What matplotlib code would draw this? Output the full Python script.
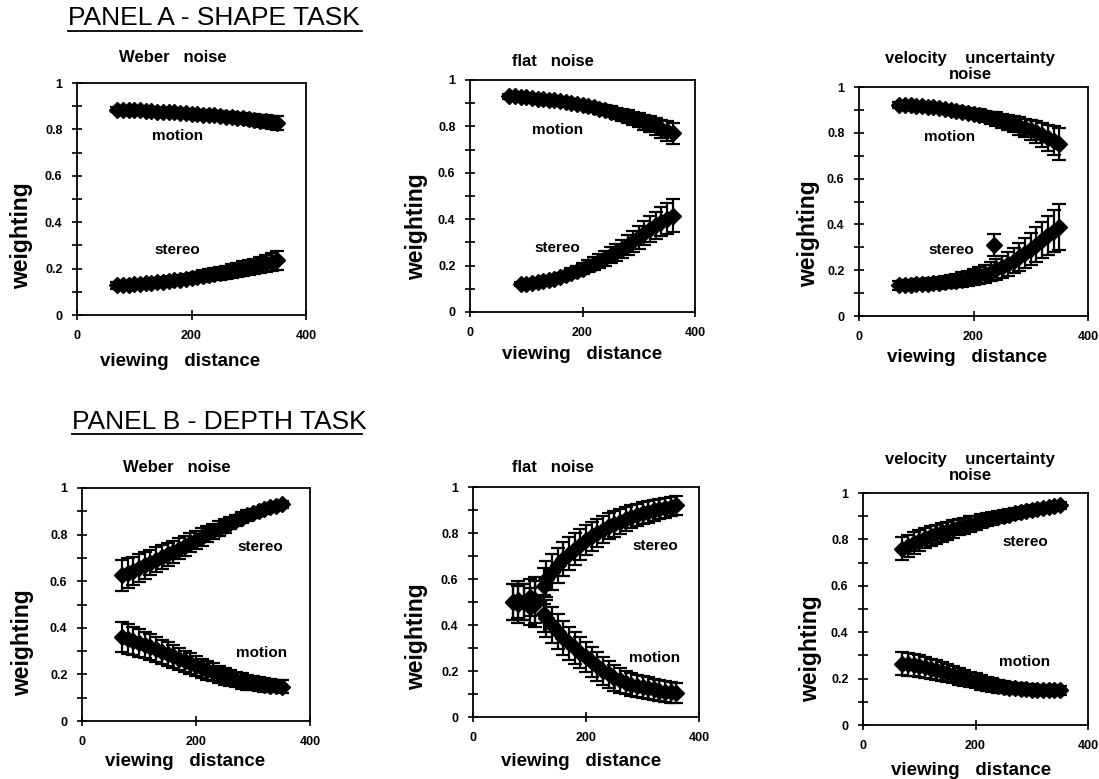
import matplotlib
matplotlib.use("Agg")
import matplotlib.pyplot as plt
from matplotlib.lines import Line2D

plt.rcParams["font.family"] = ["Liberation Sans", "DejaVu Sans"]
plt.rcParams["font.weight"] = "bold"

# ---- data ----
X = [70, 80, 90, 100, 110, 120, 130, 140, 150, 160, 170, 180, 190, 200, 210,
     220, 230, 240, 250, 260, 270, 280, 290, 300, 310, 320, 330, 340, 350]

# panel A, Weber noise
a1_motion = [0.885, 0.885, 0.884, 0.883, 0.882, 0.880, 0.879, 0.877, 0.876, 0.874,
             0.873, 0.871, 0.870, 0.868, 0.866, 0.864, 0.862, 0.860, 0.858, 0.855,
             0.852, 0.850, 0.847, 0.844, 0.841, 0.838, 0.835, 0.831, 0.828]
a1_motion_err = [0.012, 0.012, 0.012, 0.013, 0.013, 0.013, 0.014, 0.014, 0.015, 0.015,
                 0.016, 0.016, 0.017, 0.017, 0.018, 0.018, 0.019, 0.019, 0.020, 0.021,
                 0.021, 0.022, 0.023, 0.024, 0.025, 0.026, 0.027, 0.028, 0.030]
a1_stereo = [0.128, 0.129, 0.130, 0.132, 0.134, 0.136, 0.138, 0.141, 0.144, 0.147,
             0.150, 0.153, 0.157, 0.160, 0.164, 0.168, 0.172, 0.176, 0.180, 0.185,
             0.190, 0.195, 0.200, 0.205, 0.210, 0.216, 0.222, 0.228, 0.235]
a1_stereo_err = [0.015, 0.015, 0.016, 0.016, 0.017, 0.017, 0.018, 0.018, 0.019, 0.019,
                 0.020, 0.021, 0.021, 0.022, 0.023, 0.024, 0.025, 0.026, 0.027, 0.028,
                 0.029, 0.030, 0.031, 0.032, 0.033, 0.035, 0.036, 0.038, 0.040]

# panel A, flat noise
a2_motion_x = [70, 80, 90, 100, 110, 120, 130, 140, 150, 160, 170, 180, 190, 200, 210,
               220, 230, 240, 250, 260, 270, 280, 290, 300, 310, 320, 330, 340, 350, 360]
a2_motion = [0.930, 0.929, 0.927, 0.925, 0.923, 0.920, 0.918, 0.915, 0.912, 0.909,
             0.905, 0.901, 0.897, 0.892, 0.887, 0.882, 0.876, 0.870, 0.864, 0.857,
             0.850, 0.843, 0.835, 0.827, 0.818, 0.809, 0.800, 0.790, 0.780, 0.770]
a2_motion_err = [0.010, 0.010, 0.011, 0.011, 0.012, 0.012, 0.013, 0.013, 0.014, 0.015,
                 0.015, 0.016, 0.017, 0.018, 0.019, 0.020, 0.021, 0.022, 0.023, 0.024,
                 0.025, 0.027, 0.028, 0.030, 0.032, 0.034, 0.036, 0.039, 0.042, 0.045]
a2_stereo_x = [90, 100, 110, 120, 130, 140, 150, 160, 170, 180, 190, 200, 210, 220,
               230, 240, 250, 260, 270, 280, 290, 300, 310, 320, 330, 340, 350, 360]
a2_stereo = [0.120, 0.122, 0.125, 0.128, 0.132, 0.137, 0.143, 0.150, 0.158, 0.167,
             0.176, 0.186, 0.197, 0.209, 0.220, 0.232, 0.245, 0.258, 0.272, 0.288,
             0.305, 0.322, 0.340, 0.357, 0.374, 0.390, 0.403, 0.415]
a2_stereo_err = [0.010, 0.011, 0.012, 0.013, 0.014, 0.015, 0.016, 0.018, 0.019, 0.021,
                 0.022, 0.024, 0.026, 0.028, 0.030, 0.032, 0.035, 0.037, 0.040, 0.043,
                 0.046, 0.049, 0.052, 0.055, 0.058, 0.062, 0.066, 0.070]

# panel A, velocity uncertainty noise
a3_motion = [0.922, 0.921, 0.920, 0.918, 0.916, 0.914, 0.911, 0.908, 0.905, 0.901,
             0.897, 0.893, 0.888, 0.883, 0.878, 0.872, 0.866, 0.860, 0.853, 0.846,
             0.838, 0.830, 0.821, 0.812, 0.802, 0.791, 0.779, 0.766, 0.750]
a3_motion_err = [0.012, 0.012, 0.013, 0.013, 0.014, 0.015, 0.015, 0.016, 0.017, 0.018,
                 0.019, 0.020, 0.021, 0.022, 0.024, 0.025, 0.027, 0.029, 0.031, 0.033,
                 0.035, 0.038, 0.041, 0.044, 0.048, 0.052, 0.057, 0.063, 0.070]
a3_stereo = [0.135, 0.136, 0.137, 0.138, 0.139, 0.141, 0.143, 0.145, 0.148, 0.151,
             0.155, 0.159, 0.164, 0.170, 0.177, 0.185, 0.194, 0.204, 0.215, 0.228,
             0.242, 0.258, 0.275, 0.293, 0.312, 0.332, 0.352, 0.372, 0.390]
a3_stereo_err = [0.020, 0.020, 0.021, 0.022, 0.023, 0.024, 0.025, 0.026, 0.027, 0.028,
                 0.030, 0.031, 0.033, 0.035, 0.037, 0.039, 0.042, 0.045, 0.048, 0.052,
                 0.056, 0.060, 0.065, 0.070, 0.075, 0.080, 0.086, 0.093, 0.100]
a3_outlier_x = [235]
a3_outlier = [0.31]
a3_outlier_err = [0.05]

# panel B, Weber noise
b1_stereo = [0.625, 0.635, 0.645, 0.657, 0.668, 0.680, 0.692, 0.703, 0.715, 0.727,
             0.740, 0.752, 0.765, 0.778, 0.790, 0.802, 0.814, 0.826, 0.838, 0.850,
             0.861, 0.872, 0.882, 0.891, 0.900, 0.909, 0.917, 0.924, 0.930]
b1_stereo_err = [0.065, 0.063, 0.061, 0.059, 0.057, 0.055, 0.053, 0.051, 0.049, 0.047,
                 0.045, 0.043, 0.041, 0.039, 0.037, 0.035, 0.033, 0.031, 0.029, 0.027,
                 0.025, 0.024, 0.022, 0.021, 0.020, 0.019, 0.018, 0.017, 0.016]
b1_motion = [0.360, 0.352, 0.344, 0.335, 0.326, 0.317, 0.307, 0.297, 0.287, 0.277,
             0.267, 0.257, 0.247, 0.237, 0.227, 0.218, 0.209, 0.200, 0.192, 0.185,
             0.178, 0.172, 0.167, 0.162, 0.158, 0.155, 0.152, 0.150, 0.148]
b1_motion_err = [0.065, 0.063, 0.061, 0.059, 0.057, 0.055, 0.053, 0.051, 0.050, 0.048,
                 0.047, 0.045, 0.044, 0.042, 0.041, 0.040, 0.038, 0.037, 0.036, 0.035,
                 0.034, 0.033, 0.032, 0.031, 0.030, 0.029, 0.028, 0.027, 0.026]

# panel B, flat noise
b2_x = [70, 80, 90, 100, 110, 125, 130, 140, 150, 160, 170, 180, 190, 200, 210,
        220, 230, 240, 250, 260, 270, 280, 290, 300, 310, 320, 330, 340, 350, 360]
b2_stereo = [0.500, 0.510, 0.500, 0.520, 0.510, 0.570, 0.600, 0.630, 0.660, 0.685,
             0.710, 0.730, 0.750, 0.770, 0.785, 0.800, 0.815, 0.830, 0.840, 0.850,
             0.860, 0.870, 0.878, 0.885, 0.892, 0.898, 0.904, 0.910, 0.915, 0.920]
b2_stereo_err = [0.080, 0.080, 0.080, 0.080, 0.100, 0.080, 0.080, 0.078, 0.076, 0.074,
                 0.072, 0.070, 0.068, 0.066, 0.064, 0.062, 0.060, 0.058, 0.056, 0.054,
                 0.052, 0.050, 0.049, 0.048, 0.047, 0.046, 0.045, 0.044, 0.043, 0.042]
b2_motion = [0.500, 0.490, 0.500, 0.480, 0.490, 0.450, 0.430, 0.400, 0.370, 0.345,
             0.320, 0.300, 0.280, 0.260, 0.240, 0.220, 0.200, 0.185, 0.170, 0.160,
             0.150, 0.140, 0.135, 0.130, 0.125, 0.120, 0.115, 0.110, 0.107, 0.105]
b2_motion_err = [0.080, 0.080, 0.080, 0.080, 0.100, 0.080, 0.080, 0.078, 0.076, 0.074,
                 0.072, 0.070, 0.068, 0.066, 0.064, 0.062, 0.060, 0.058, 0.056, 0.054,
                 0.052, 0.050, 0.049, 0.048, 0.047, 0.046, 0.045, 0.045, 0.045, 0.045]

# panel B, velocity uncertainty noise
b3_stereo = [0.760, 0.772, 0.783, 0.795, 0.805, 0.814, 0.822, 0.830, 0.837, 0.845,
             0.852, 0.859, 0.866, 0.872, 0.879, 0.885, 0.891, 0.897, 0.902, 0.907,
             0.912, 0.917, 0.922, 0.927, 0.931, 0.935, 0.939, 0.943, 0.947]
b3_stereo_err = [0.050, 0.049, 0.047, 0.046, 0.044, 0.043, 0.041, 0.040, 0.038, 0.037,
                 0.035, 0.034, 0.033, 0.031, 0.030, 0.029, 0.028, 0.026, 0.025, 0.024,
                 0.023, 0.022, 0.021, 0.020, 0.019, 0.018, 0.017, 0.016, 0.015]
b3_motion = [0.265, 0.262, 0.258, 0.254, 0.249, 0.243, 0.237, 0.230, 0.223, 0.216,
             0.209, 0.202, 0.196, 0.190, 0.184, 0.178, 0.173, 0.168, 0.164, 0.161,
             0.158, 0.156, 0.154, 0.153, 0.152, 0.151, 0.150, 0.150, 0.150]
b3_motion_err = [0.050, 0.049, 0.047, 0.046, 0.045, 0.043, 0.042, 0.040, 0.039, 0.037,
                 0.036, 0.035, 0.033, 0.032, 0.031, 0.030, 0.029, 0.028, 0.027, 0.026,
                 0.025, 0.024, 0.023, 0.023, 0.022, 0.022, 0.021, 0.021, 0.020]

y_ticks = [0, 0.2, 0.4, 0.6, 0.8, 1]
y_labels = ["0", "0.2", "0.4", "0.6", "0.8", "1"]
x_ticks = [0, 200, 400]

W, H = 1099, 779


def px_axes(fig, left, right, top, bottom):
    # pixel box of the reference -> figure fraction
    return fig.add_axes([left / W, (H - bottom) / H, (right - left) / W, (bottom - top) / H])


def series(ax, x, y, err):
    ax.errorbar(x, y, yerr=err, fmt="D", color="black", ms=8.5, mec="black",
                elinewidth=1.6, capsize=5, capthick=1.6, zorder=3)


def style(ax, title, tpos, ylab_pos, xlab_pos):
    ax.set_xlim(0, 400)
    ax.set_ylim(0, 1)
    ax.set_xticks(x_ticks)
    ax.set_xticklabels([str(t) for t in x_ticks])
    ax.set_yticks(y_ticks)
    ax.set_yticklabels(y_labels)
    ax.set_yticks([0.1, 0.3, 0.5, 0.7, 0.9], minor=True)
    ax.tick_params(which="both", direction="inout", length=7, width=1.2,
                   labelsize=9, pad=7)
    for lab in ax.get_xticklabels() + ax.get_yticklabels():
        lab.set_fontweight("bold")
    for sp in ax.spines.values():
        sp.set_linewidth(1.3)
    ax.text(tpos[0], tpos[1], title, transform=ax.transAxes, ha="center",
            va="center", fontsize=12, fontweight="bold", linespacing=1.05)
    ax.text(ylab_pos[0], ylab_pos[1], "weighting", transform=ax.transAxes,
            rotation=90, ha="center", va="center", fontsize=16.5, fontweight="bold")
    ax.text(xlab_pos[0], xlab_pos[1], "viewing   distance", transform=ax.transAxes,
            ha="center", va="center", fontsize=13.5, fontweight="bold")


def label(ax, x, y, s):
    ax.text(x, y, s, ha="center", va="center", fontsize=11, fontweight="bold", zorder=4)


fig = plt.figure(figsize=(W / 100, H / 100), dpi=100)

# ---- PANEL A ----
ax = px_axes(fig, 77, 306, 83, 315)
series(ax, X, a1_motion, a1_motion_err)
series(ax, X, a1_stereo, a1_stereo_err)
label(ax, 175, 0.77, "motion")
label(ax, 175, 0.28, "stereo")
style(ax, "Weber   noise", (0.42, 1.108), (-0.24, 0.34), (0.45, -0.20))

ax = px_axes(fig, 470, 695, 80, 312)
series(ax, a2_motion_x, a2_motion, a2_motion_err)
series(ax, a2_stereo_x, a2_stereo, a2_stereo_err)
label(ax, 155, 0.785, "motion")
label(ax, 155, 0.275, "stereo")
style(ax, "flat   noise", (0.37, 1.078), (-0.236, 0.366), (0.50, -0.185))

ax = px_axes(fig, 859, 1088, 87, 316)
series(ax, X, a3_motion, a3_motion_err)
series(ax, X, a3_stereo, a3_stereo_err)
series(ax, a3_outlier_x, a3_outlier, a3_outlier_err)
label(ax, 159, 0.78, "motion")
label(ax, 162, 0.29, "stereo")
style(ax, "velocity    uncertainty\nnoise", (0.485, 1.09), (-0.22, 0.36), (0.47, -0.18))

# ---- PANEL B ----
ax = px_axes(fig, 82, 310, 488, 721)
series(ax, X, b1_stereo, b1_stereo_err)
series(ax, X, b1_motion, b1_motion_err)
label(ax, 312, 0.747, "stereo")
label(ax, 315, 0.29, "motion")
style(ax, "Weber   noise", (0.417, 1.09), (-0.26, 0.335), (0.45, -0.175))

ax = px_axes(fig, 473, 699, 487, 717)
series(ax, b2_x, b2_stereo, b2_stereo_err)
series(ax, b2_x, b2_motion, b2_motion_err)
label(ax, 322, 0.745, "stereo")
label(ax, 322, 0.257, "motion")
style(ax, "flat   noise", (0.354, 1.083), (-0.25, 0.35), (0.48, -0.195))

ax = px_axes(fig, 863, 1088, 493, 725)
series(ax, X, b3_stereo, b3_stereo_err)
series(ax, X, b3_motion, b3_motion_err)
label(ax, 288, 0.79, "stereo")
label(ax, 288, 0.27, "motion")
style(ax, "velocity    uncertainty\nnoise", (0.476, 1.11), (-0.235, 0.33), (0.48, -0.195))

# panel headings, underlined
fig.text(68 / W, 1 - 18 / H, "PANEL A - SHAPE TASK", ha="left", va="center",
         fontsize=19, fontweight="normal")
fig.add_artist(Line2D([68 / W, 362 / W], [1 - 31 / H, 1 - 31 / H], color="black", lw=1.3))
fig.text(72 / W, 1 - 422 / H, "PANEL B - DEPTH TASK", ha="left", va="center",
         fontsize=19, fontweight="normal")
fig.add_artist(Line2D([72 / W, 362 / W], [1 - 434 / H, 1 - 434 / H], color="black", lw=1.3))

fig.savefig("out.png", dpi=100)
